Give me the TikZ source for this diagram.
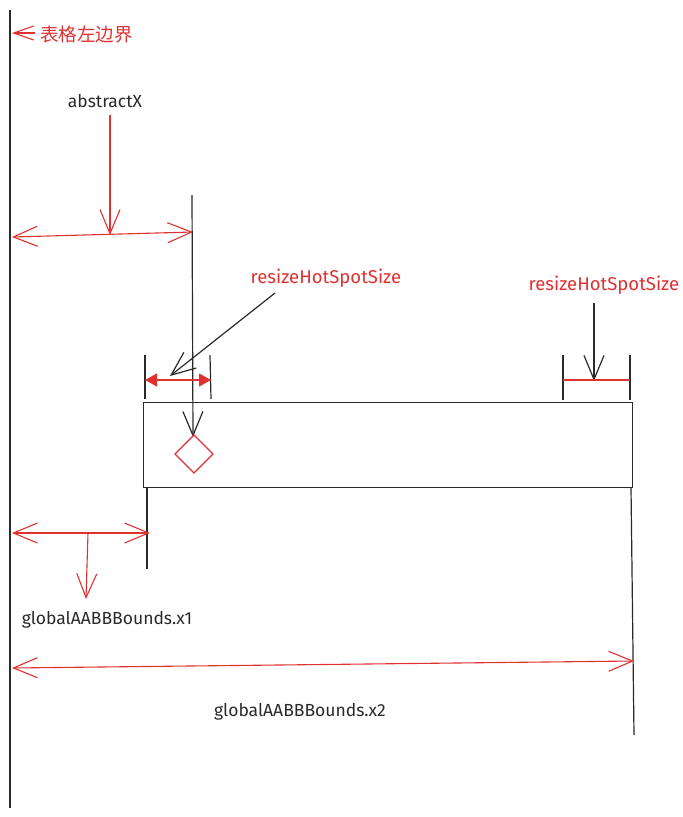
\documentclass[tikz,border=0pt]{standalone}
\usepackage{fontspec}
\setmainfont{Fira Sans}
\newfontfamily\cjk{Noto Sans CJK SC}
\usetikzlibrary{arrows.meta}
\definecolor{rd}{HTML}{E03131}
\definecolor{ink}{HTML}{2A2A2A}
\tikzset{
  x=1pt,y=-1pt,
  lbl/.style={font=\fontsize{17.5}{19}\selectfont, inner sep=0pt},
  redlbl/.style={lbl, font=\fontsize{18.5}{20}\selectfont, text=rd},
  blk/.style={draw=ink, line width=1.2pt},
  redl/.style={draw=rd, line width=1.1pt},
  barb/.tip={Straight Barb[length=24pt,width=20pt,line width=1.1pt]},
  bbarb/.tip={Straight Barb[length=24pt,width=20pt,line width=1.2pt]},
  open/.style={-barb},
  bopen/.style={-bbarb},
  open2/.style={barb-barb},
  fill2/.style={{Triangle[length=12pt,width=13pt]}-{Triangle[length=12pt,width=13pt]}},
}
\begin{document}
\begin{tikzpicture}
\useasboundingbox[fill=white] (0,0) rectangle (683,817);
% left boundary
\coordinate (lt) at (10,10); \coordinate (lb) at (10,808);
\draw[blk] (lt) -- (lb);
\coordinate (bs) at (35,33); \coordinate (be) at (12,33);
\draw[redl,-{Straight Barb[length=20pt,width=14pt,line width=1.1pt]}] (bs) -- (be);
\node[text=rd, font=\cjk\fontsize{18.5}{20}\selectfont, anchor=west, inner sep=0pt] (tb) at (40,35) {表格左边界};
% abstractX
\node[lbl, text=ink] (ax) at (105,101) {abstractX};
\coordinate (axs) at (110,115); \coordinate (axe) at (110,235);
\draw[redl,open] (axs) -- (axe);
\coordinate (d1a) at (12,237); \coordinate (d1b) at (193,232);
\draw[redl,open2] (d1a) -- (d1b);
% center vertical line
\coordinate (cv1) at (192,195); \coordinate (cv2) at (193,437);
\draw[blk,bopen] (cv1) -- (cv2);
% left hotspot
\node[redlbl] (h1) at (326,278) {resizeHotSpotSize};
\coordinate (h1s) at (275,293); \coordinate (h1e) at (170,376);
\draw[blk,bopen] (h1s) -- (h1e);
\coordinate (t1a) at (145,355); \coordinate (t1b) at (145,399);
\coordinate (t2a) at (210,355); \coordinate (t2b) at (211,399);
\draw[blk] (t1a) -- (t1b);
\draw[blk] (t2a) -- (t2b);
\coordinate (f1) at (145,380); \coordinate (f2) at (211,380);
\draw[redl,fill2,rd] (f1) -- (f2);
% rectangle
\node[draw=ink, line width=1.2pt, minimum width=489pt, minimum height=85pt, inner sep=0pt, anchor=north west] (box) at (143,402) {};
% diamond
\coordinate (dc) at (194,454);
\draw[redl] (194,435) -- (213,454) -- (194,473) -- (175,454) -- cycle;
% right hotspot
\node[redlbl] (h2) at (604,285) {resizeHotSpotSize};
\coordinate (h2s) at (594,303); \coordinate (h2e) at (594,381);
\draw[blk,bopen] (h2s) -- (h2e);
\coordinate (t3a) at (563,355); \coordinate (t3b) at (563,400);
\coordinate (t4a) at (630,355); \coordinate (t4b) at (630,400);
\draw[blk] (t3a) -- (t3b);
\draw[blk] (t4a) -- (t4b);
\draw[redl] (t3a |- 0,380) coordinate (r1) -- (t4a |- 0,380) coordinate (r2);
% below lines
\coordinate (v1a) at (147,487); \coordinate (v1b) at (147,569);
\draw[blk] (v1a) -- (v1b);
\coordinate (v2a) at (631,487); \coordinate (v2b) at (634,735);
\draw[blk] (v2a) -- (v2b);
% x1
\coordinate (x1a) at (12,533); \coordinate (x1b) at (150,533);
\draw[redl,open2] (x1a) -- (x1b);
\coordinate (x1s) at (88,533); \coordinate (x1e) at (86,599);
\draw[redl,open] (x1s) -- (x1e);
\node[lbl, text=ink] (gx1) at (107,620) {globalAABBBounds.x1};
% x2
\coordinate (x2a) at (12,668); \coordinate (x2b) at (634,661);
\draw[redl,open2] (x2a) -- (x2b);
\node[lbl, text=ink] (gx2) at (300,712) {globalAABBBounds.x2};
\end{tikzpicture}
\end{document}
